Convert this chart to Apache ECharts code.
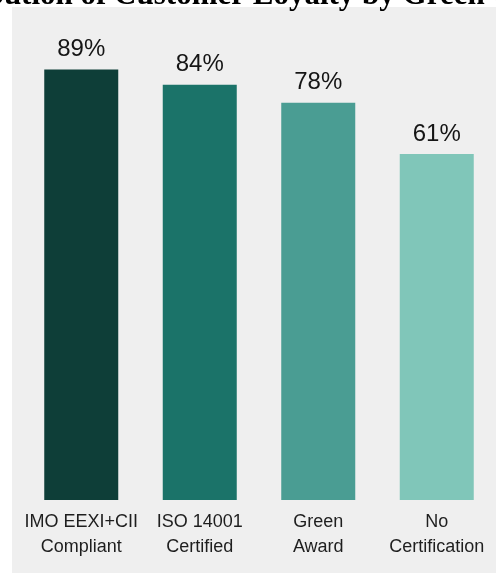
<!DOCTYPE html>
<html>
<head>
<meta charset="utf-8">
<style>
  html, body { margin: 0; padding: 0; background: #ffffff; }
  #main { width: 496px; height: 573px; }
</style>
<script src="https://cdn.jsdelivr.net/npm/echarts@6/dist/echarts.min.js"></script>
</head>
<body>
<div id="main"></div>
<script>
// categories and values
var categories = ["IMO EEXI+CII\nCompliant", "ISO 14001\nCertified", "Green\nAward", "No\nCertification"];
var loyalty = [89, 84, 78, 61];
var barColors = ["#0e3e38", "#1b7369", "#4a9d93", "#80c6b9"];

// bars grow from the bottom of the (hidden) value axis, not from zero
var axisMin = -54;
var axisMax = 100;

var chart = echarts.init(document.getElementById("main"));

function renderBar(params, api) {
  var idx = api.value(0);
  var val = api.value(1);
  var base = api.coord([idx, axisMin]);
  var top = api.coord([idx, val]);
  var w = 74;
  return {
    type: "group",
    children: [
      {
        type: "rect",
        shape: { x: top[0] - w / 2, y: top[1], width: w, height: base[1] - top[1] },
        style: { fill: barColors[idx] }
      },
      {
        type: "text",
        x: top[0],
        y: top[1] - 8,
        style: {
          text: val + "%",
          align: "center",
          verticalAlign: "bottom",
          font: "24px 'Liberation Sans'",
          fill: "#151515"
        }
      }
    ]
  };
}

var option = {
  backgroundColor: "#ffffff",
  animation: false,
  graphic: [
    {
      type: "rect",
      z: -10,
      silent: true,
      shape: { x: 12, y: 7, width: 496, height: 580 },
      style: { fill: "#efefef" }
    },
    {
      type: "text",
      z: 10,
      silent: true,
      x: 286,
      y: 11,
      style: {
        text: "Distribution of Customer Loyalty by Green Certification",
        align: "center",
        verticalAlign: "bottom",
        font: "bold 31px 'Liberation Serif'",
        fill: "#000000"
      }
    }
  ],
  grid: {
    left: 22,
    right: -6,
    top: 36.5,
    bottom: 73,
    containLabel: false
  },
  xAxis: {
    type: "category",
    data: categories,
    axisLine: { show: false },
    axisTick: { show: false },
    axisLabel: {
      margin: 10,
      interval: 0,
      fontFamily: "Liberation Sans",
      fontSize: 18,
      lineHeight: 25,
      color: "#1e1e1e"
    }
  },
  yAxis: {
    type: "value",
    min: axisMin,
    max: axisMax,
    show: false,
    splitLine: { show: false }
  },
  series: [
    {
      type: "custom",
      renderItem: renderBar,
      encode: { x: 0, y: 1 },
      data: loyalty.map(function (v, i) { return [i, v]; })
    }
  ]
};

chart.setOption(option);
</script>
</body>
</html>
